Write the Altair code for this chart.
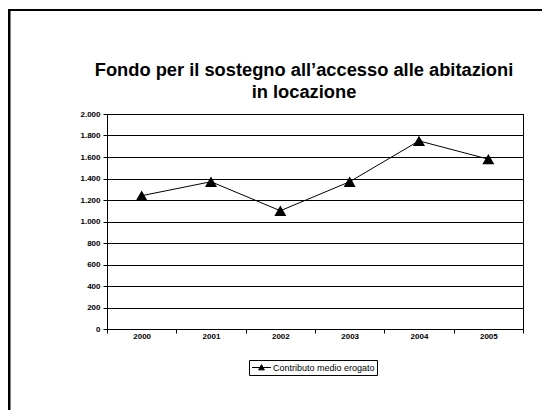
import altair as alt
import pandas as pd

years = ["2000", "2001", "2002", "2003", "2004", "2005"]
values = [1240, 1370, 1100, 1370, 1750, 1580]
series_name = "Contributo medio erogato"
y_ticks = [0, 200, 400, 600, 800, 1000, 1200, 1400, 1600, 1800, 2000]
title_lines = ["Fondo per il sostegno all\u2019accesso alle abitazioni", "in locazione"]

FONT = "Liberation Sans"

df = pd.DataFrame({"anno": years, "valore": values, "serie": [series_name] * len(years)})

x_enc = alt.X(
    "anno:N",
    sort=years,
    scale=alt.Scale(paddingInner=0, paddingOuter=0),
    axis=alt.Axis(
        title=None, tickBand="extent", labelAngle=0, labelFont=FONT,
        labelFontSize=8, labelFontWeight="bold", labelColor="black",
        domainColor="black", tickColor="black", tickSize=4, labelPadding=-1,
        grid=False,
    ),
)
y_enc = alt.Y(
    "valore:Q",
    scale=alt.Scale(domain=[0, 2000], nice=False),
    axis=alt.Axis(
        title=None, values=y_ticks,
        labelExpr="replace(format(datum.value, ','), ',', '.')",
        labelFont=FONT, labelFontSize=8, labelFontWeight="bold", labelColor="black",
        domainColor="black", tickColor="black", tickSize=4, labelPadding=3,
        grid=True, gridColor="black", gridWidth=1, gridOpacity=1,
    ),
)

line = alt.Chart(df).mark_line(
    color="black", strokeWidth=1,
    point=alt.OverlayMarkDef(shape="triangle-up", size=144, filled=True, color="black", opacity=1),
).encode(
    x=x_enc,
    y=y_enc,
    color=alt.Color(
        "serie:N",
        scale=alt.Scale(range=["black"]),
        legend=alt.Legend(
            title=None, orient="none", legendX=142, legendY=246,
            symbolType="M-2,0H2M-0.6,0.5L0,-0.6L0.6,0.5Z",
            symbolSize=90, symbolStrokeWidth=1, symbolFillColor="black",
            symbolStrokeColor="black", symbolOffset=5,
            labelFont=FONT, labelFontSize=9, labelColor="black", labelOffset=6,
            strokeColor="black", padding=2, fillColor="white",
        ),
    ),
)

frame_df = pd.DataFrame({"k": [0]})
left_rule = alt.Chart(frame_df).mark_rule(color="black", strokeWidth=3).encode(
    x=alt.value(-98), y=alt.value(-104), y2=alt.value(300)
)
top_rule = alt.Chart(frame_df).mark_rule(color="black", strokeWidth=2).encode(
    x=alt.value(-99.5), x2=alt.value(440), y=alt.value(-104)
)

chart = alt.layer(line, left_rule, top_rule).properties(
    width=416,
    height=215,
    autosize=alt.AutoSizeParams(type="none"),
    padding={"left": 99, "top": 106, "right": 19, "bottom": 81},
    title=alt.TitleParams(
        text=title_lines, font=FONT, fontSize=18.3, fontWeight="bold", color="black",
        anchor="middle", frame="group", dx=-11, dy=106, offset=12, lineHeight=22,
    ),
    background="white",
).configure_view(stroke="black", strokeWidth=1)

chart.save("out.html", embed_options={"renderer": "svg", "actions": False})
